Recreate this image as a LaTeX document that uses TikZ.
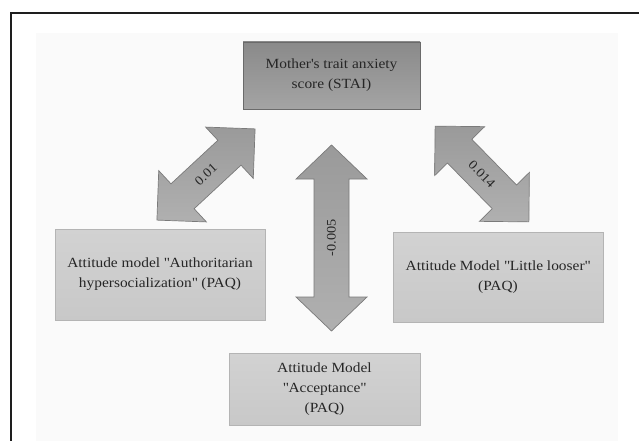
\documentclass[tikz,border=0pt]{standalone}
\usepackage{fontspec}
\setmainfont{Liberation Serif}[FakeStretch=1.1]
\newcommand{\dq}{\XeTeXglyph\XeTeXcharglyph"22\relax}
\newcommand{\sq}{\XeTeXglyph\XeTeXcharglyph"27\relax}
\begin{document}
\begin{tikzpicture}[x=1pt,y=-1pt,
  boxtext/.style={text=textc, font=\fontsize{14}{20}\selectfont, align=center, inner sep=0pt},
  darkbox/.style={boxtext, rectangle, draw=darkedge, line width=0.8pt, top color=darktop, bottom color=darkbot},
  lightbox/.style={boxtext, rectangle, draw=lightedge, line width=0.6pt, top color=lighttop, bottom color=lightbot},
  blockarrow/.style={draw=arrowedge, line width=0.7pt, top color=arrowtop, bottom color=arrowbot},
  arrowlabel/.style={text=textc, font=\fontsize{13}{15}\selectfont, inner sep=0pt}
]
\definecolor{textc}{HTML}{262626}
\definecolor{darkedge}{HTML}{6A6A6A}
\definecolor{darktop}{HTML}{8A8A8A}
\definecolor{darkbot}{HTML}{A4A4A4}
\definecolor{lightedge}{HTML}{B4B4B4}
\definecolor{lighttop}{HTML}{D2D2D2}
\definecolor{lightbot}{HTML}{C8C8C8}
\definecolor{arrowedge}{HTML}{7A7A7A}
\definecolor{arrowtop}{HTML}{9A9A9A}
\definecolor{arrowbot}{HTML}{B0B0B0}
\definecolor{framec}{HTML}{1E1E1E}
\definecolor{bgc}{HTML}{FAFAFA}

\useasboundingbox (0,0) rectangle (639,441);
\fill[white] (0,0) rectangle (639,441);
\fill[bgc] (36,33) rectangle (618,441);
\draw[framec, line width=2pt] (11,441) -- (11,13) -- (639,13);

% boxes
\node[darkbox, minimum width=177pt, minimum height=67pt] (stai) at (331.5,75.5)
  {Mother\sq s trait anxiety\\score (STAI)};
\node[lightbox, minimum width=210pt, minimum height=91pt] (auth) at (160,274.5)
  {Attitude model \dq Authoritarian\\hypersocialization\dq{} (PAQ)};
\node[lightbox, minimum width=210pt, minimum height=90pt] (loose) at (498,277)
  {Attitude Model \dq Little looser\dq\\(PAQ)};
\node[lightbox, minimum width=191pt, minimum height=72pt] (acc) at (324.5,389)
  {Attitude Model\\\dq Acceptance\dq\\(PAQ)};

% block arrows (L = half length, h = head length, H = head half width, s = shaft half width)
\coordinate (la) at (206,174.5);
\coordinate (ca) at (331.5,238);
\coordinate (ra) at (482,174);

\begin{scope}[shift={(la)}, rotate=42.9]
  \path[blockarrow] (67,0) -- (32,35) -- (32,17) -- (-32,17) -- (-32,35) -- (-67,0)
    -- (-32,-35) -- (-32,-17) -- (32,-17) -- (32,-35) -- cycle;
\end{scope}
\node[arrowlabel, rotate=42.9] (l1) at (la) {0.01};

\begin{scope}[shift={(ca)}, rotate=90]
  \path[blockarrow] (93,0) -- (59,35.5) -- (59,17.5) -- (-59,17.5) -- (-59,35.5) -- (-93,0)
    -- (-59,-35.5) -- (-59,-17.5) -- (59,-17.5) -- (59,-35.5) -- cycle;
\end{scope}
\node[arrowlabel, rotate=90] (l2) at (ca) {-0.005};

\begin{scope}[shift={(ra)}, rotate=-45.6]
  \path[blockarrow] (67,0) -- (32,35) -- (32,17) -- (-32,17) -- (-32,35) -- (-67,0)
    -- (-32,-35) -- (-32,-17) -- (32,-17) -- (32,-35) -- cycle;
\end{scope}
\node[arrowlabel, rotate=-45.6] (l3) at (ra) {0.014};
\end{tikzpicture}
\end{document}
